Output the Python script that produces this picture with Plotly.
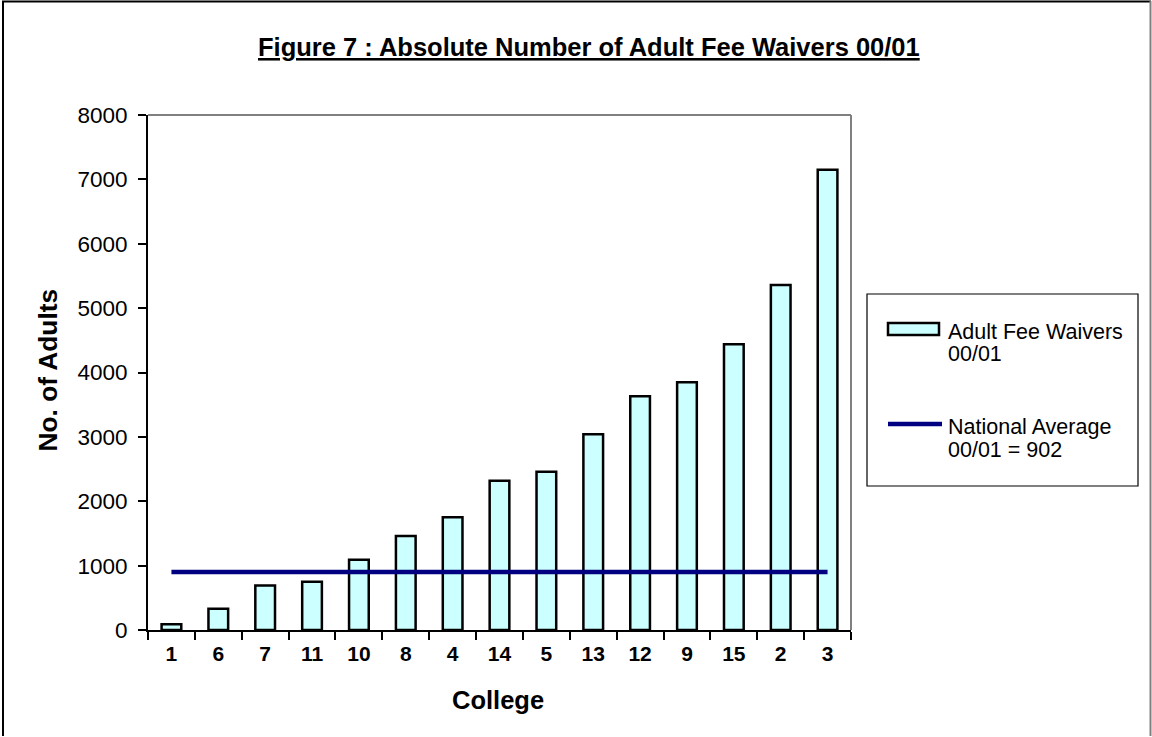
import plotly.graph_objects as go

colleges = ["1", "6", "7", "11", "10", "8", "4", "14", "5", "13", "12", "9", "15", "2", "3"]
fee_waivers = [90, 330, 690, 750, 1090, 1460, 1750, 2320, 2460, 3040, 3630, 3850, 4440, 5360, 7150]
national_average = 902
avg_line = [national_average for _ in colleges]

W, H = 1152, 737
L, R, T, B = 148, 851, 115, 630  # plot area in pixels


def px(x):
    return (x - L) / (R - L)


def py(y):
    return (B - y) / (B - T)


fig = go.Figure()
fig.add_trace(go.Bar(
    x=colleges, y=fee_waivers, width=0.42,
    marker=dict(color="#CCFFFF", line=dict(color="black", width=2.5)),
    name="Adult Fee Waivers 00/01", showlegend=False,
))
fig.add_trace(go.Scatter(
    x=colleges, y=avg_line, mode="lines",
    line=dict(color="#000080", width=4.5),
    name="National Average 00/01 = 902", showlegend=False,
))

font = "Arial, Liberation Sans, sans-serif"
shapes = []
# plot area top/right border (gray)
shapes.append(dict(type="line", xref="paper", yref="paper", x0=0, y0=1, x1=1, y1=1,
                   line=dict(color="#808080", width=2)))
shapes.append(dict(type="line", xref="paper", yref="paper", x0=1, y0=1, x1=1, y1=0,
                   line=dict(color="#808080", width=2)))
# outer chart border
shapes.append(dict(type="line", xref="paper", yref="paper", x0=px(2), y0=py(1.5), x1=px(1151), y1=py(1.5),
                   line=dict(color="black", width=2)))
shapes.append(dict(type="line", xref="paper", yref="paper", x0=px(3), y0=py(1), x1=px(3), y1=py(736),
                   line=dict(color="black", width=2)))
shapes.append(dict(type="line", xref="paper", yref="paper", x0=px(1150.5), y0=py(1), x1=px(1150.5), y1=py(736),
                   line=dict(color="#808080", width=2)))
# legend box
shapes.append(dict(type="rect", xref="paper", yref="paper", x0=px(867), y0=py(294), x1=px(1138), y1=py(486),
                   line=dict(color="black", width=1.2), fillcolor="white", layer="below"))
# legend symbols
shapes.append(dict(type="rect", xref="paper", yref="paper", x0=px(888), y0=py(323), x1=px(939), y1=py(335),
                   line=dict(color="black", width=2.5), fillcolor="#CCFFFF"))
shapes.append(dict(type="line", xref="paper", yref="paper", x0=px(888), y0=py(424), x1=px(942), y1=py(424),
                   line=dict(color="#000080", width=4.5)))

annotations = [
    dict(text="<b><u>Figure 7 : Absolute Number of Adult Fee Waivers 00/01</u></b>", x=px(589), y=py(47),
         xref="paper", yref="paper", showarrow=False, font=dict(family=font, size=25.5, color="black"),
         xanchor="center", yanchor="middle"),
    dict(text="<b>College</b>", x=px(498), y=py(700), xref="paper", yref="paper", showarrow=False,
         font=dict(family=font, size=25.5, color="black"), xanchor="center", yanchor="middle"),
    dict(text="<b>No. of Adults</b>", x=px(47), y=py(370.5), xref="paper", yref="paper", showarrow=False,
         textangle=-90, font=dict(family=font, size=26.3, color="black"), xanchor="center", yanchor="middle"),
]
legend_lines = [("Adult Fee Waivers", 332), ("00/01", 354), ("National Average", 427), ("00/01 = 902", 450)]
for txt, yy in legend_lines:
    annotations.append(dict(text=txt, x=px(946), y=py(yy), xref="paper", yref="paper", showarrow=False,
                            font=dict(family=font, size=21.5, color="black"), xanchor="left", yanchor="middle"))

fig.update_layout(
    width=W, height=H,
    margin=dict(l=L, r=W - R, t=T, b=H - B, pad=0),
    paper_bgcolor="white", plot_bgcolor="white",
    shapes=shapes, annotations=annotations,
    showlegend=False,
    font=dict(family=font, color="black"),
    xaxis=dict(
        type="category", range=[-0.5, 14.5], showgrid=False, zeroline=False,
        showline=True, linecolor="black", linewidth=2,
        ticks="outside", tickson="boundaries", ticklen=8, tickwidth=1.5, tickcolor="black",
        ticklabelstandoff=4,
        tickfont=dict(family=font, size=21, color="black", weight="bold"),
    ),
    yaxis=dict(
        range=[0, 8000], dtick=1000, showgrid=False, zeroline=False,
        showline=True, linecolor="black", linewidth=2,
        ticks="outside", ticklen=8, tickwidth=1.5, tickcolor="black",
        ticklabelstandoff=6,
        tickfont=dict(family=font, size=22.5, color="black"),
    ),
)

fig.write_html("out.html")
